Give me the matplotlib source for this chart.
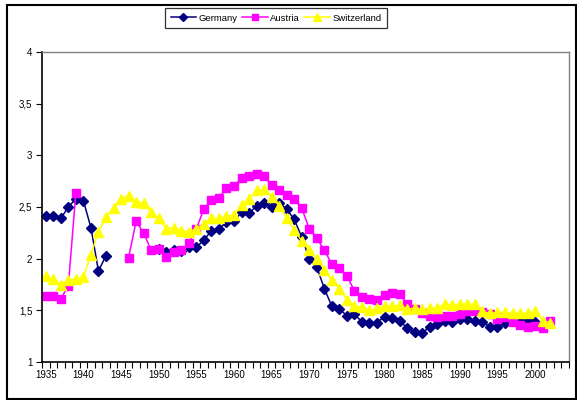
import numpy as np
import matplotlib
matplotlib.use("Agg")
import matplotlib.pyplot as plt
from matplotlib.patches import Rectangle
from matplotlib.ticker import FixedLocator, FuncFormatter

plt.rcParams['font.family'] = ['Liberation Sans', 'DejaVu Sans']

nan = np.nan
years = np.arange(1935, 2003)

germany = [2.41, 2.41, 2.39, 2.50, 2.58, 2.56, 2.30, 1.88, 2.03,
           nan, nan, nan, nan, nan, nan,
           2.09, 2.06, 2.08, 2.07, 2.11, 2.11, 2.18, 2.27, 2.29, 2.35,
           2.36, 2.45, 2.44, 2.51, 2.54, 2.50, 2.54, 2.48, 2.38, 2.21,
           2.00, 1.92, 1.71, 1.54, 1.51, 1.45, 1.46, 1.39, 1.38, 1.38,
           1.44, 1.43, 1.40, 1.33, 1.29, 1.28, 1.34, 1.37, 1.40, 1.39,
           1.42, 1.42, 1.40, 1.39, 1.34, 1.34, 1.38, 1.41, 1.41, 1.41,
           1.39, nan, nan]

austria = [1.64, 1.64, 1.61, 1.74, 2.64,
           nan, nan, nan, nan, nan, nan,
           2.01, 2.36, 2.25, 2.08, 2.09, 2.02, 2.06, 2.08, 2.15, 2.29,
           2.48, 2.57, 2.59, 2.68, 2.70, 2.78, 2.80, 2.82, 2.80, 2.71,
           2.66, 2.62, 2.58, 2.49, 2.29, 2.20, 2.08, 1.95, 1.91, 1.83,
           1.69, 1.63, 1.61, 1.60, 1.65, 1.67, 1.66, 1.56, 1.51, 1.47,
           1.45, 1.44, 1.45, 1.45, 1.46, 1.49, 1.49, 1.48, 1.46, 1.42,
           1.44, 1.39, 1.36, 1.34, 1.35, 1.33, 1.40]

switzerland = [1.83, 1.80, 1.75, 1.79, 1.80, 1.82, 2.04, 2.26, 2.40, 2.49,
               2.58, 2.61, 2.55, 2.54, 2.45, 2.39, 2.29, 2.30, 2.27, 2.26,
               2.29, 2.34, 2.39, 2.39, 2.41, 2.42, 2.52, 2.58, 2.66, 2.67,
               2.60, 2.51, 2.39, 2.28, 2.17, 2.08, 2.00, 1.89, 1.79, 1.71,
               1.60, 1.54, 1.53, 1.50, 1.52, 1.54, 1.54, 1.55, 1.51, 1.52,
               1.51, 1.52, 1.52, 1.56, 1.55, 1.56, 1.56, 1.56, 1.49, 1.47,
               1.48, 1.48, 1.47, 1.47, 1.47, 1.49, 1.40, 1.38]

label_years = np.arange(1935, 2001, 5)
y_ticks = np.arange(1.0, 4.01, 0.5)

fig = plt.figure(figsize=(5.77, 4.0), dpi=100)
ax = fig.add_axes([42 / 577, 38 / 400, 527 / 577, 310 / 400])

ax.plot(years, germany, color='#000080', marker='D', markersize=5.2,
        linewidth=1.1, label='Germany')
ax.plot(years, austria, color='#FF00FF', marker='s', markersize=6,
        linewidth=1.1, label='Austria')
ax.plot(years, switzerland, color='#FFFF00', marker='^', markersize=7,
        linewidth=1.1, label='Switzerland')

ax.set_xlim(1934.5, 2004.5)
ax.set_ylim(1, 4)

# category axis: ticks between years, labels every fifth year
ax.xaxis.set_major_locator(FixedLocator(label_years))
ax.xaxis.set_minor_locator(FixedLocator(np.arange(1934.5, 2005, 1)))
ax.tick_params(axis='x', which='major', length=0, pad=6, labelsize=7)
ax.tick_params(axis='x', which='minor', length=4, width=0.8, direction='out')

ax.yaxis.set_major_locator(FixedLocator(y_ticks))
ax.yaxis.set_major_formatter(FuncFormatter(lambda v, p: ('%g' % v).replace('.', ',')))
ax.tick_params(axis='y', length=4, width=0.8, direction='out', labelsize=7, pad=3)

for side in ['left', 'bottom']:
    ax.spines[side].set_color('black')
    ax.spines[side].set_linewidth(1.2)
for side in ['top', 'right']:
    ax.spines[side].set_color('#808080')
    ax.spines[side].set_linewidth(1.0)

leg = fig.legend(loc='upper center', bbox_to_anchor=(276 / 577, 1 - 8 / 400),
                 ncol=3, fontsize=6.8, frameon=True, fancybox=False,
                 handlelength=2.7, handletextpad=0.25, columnspacing=0.5,
                 borderpad=0.6, borderaxespad=0, markerscale=0.8)
leg.get_frame().set_edgecolor('black')
leg.get_frame().set_linewidth(0.9)

# outer chart border
fig.patches.append(Rectangle((7 / 577, 1.5 / 400), 569 / 577, 393.5 / 400,
                             transform=fig.transFigure, fill=False,
                             edgecolor='black', linewidth=1.5))

fig.savefig('out.png', dpi=100)
